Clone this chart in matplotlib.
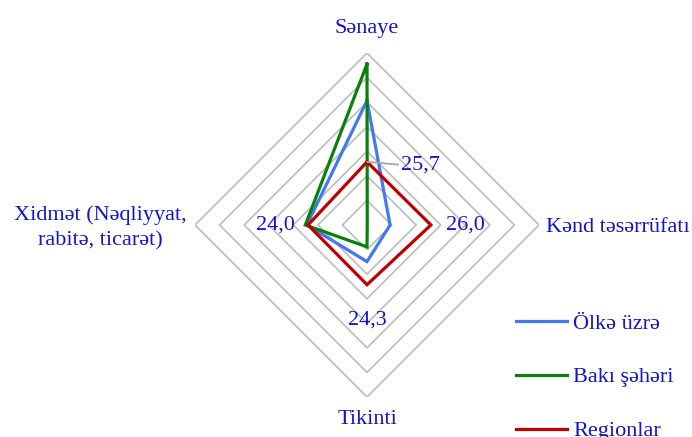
import numpy as np
import matplotlib
matplotlib.use("Agg")
import matplotlib.pyplot as plt

categories = ["Sənaye", "Kənd təsərrüfatı", "Tikinti", "Xidmət (Nəqliyyat,\nrabitə, ticarət)"]
series_names = ["Ölkə üzrə", "Bakı şəhəri", "Regionlar"]
olke = [50.6, 9.4, 14.9, 24.5]
baki = [65.5, 0.1, 8.9, 25.1]
regionlar = [25.7, 26.0, 24.3, 24.0]
region_labels = ["25,7", "26,0", "24,3", "24,0"]
grid_levels = [10, 20, 30, 40, 50, 60, 70]

colors = ["#4378f2", "#0a800a", "#c00000"]
text_blue = "#1414c8"
grid_gray = "#c0c0c0"
font = ["Liberation Serif", "DejaVu Serif"]

W, H = 692, 437
fig = plt.figure(figsize=(W / 100, H / 100), dpi=100)
cx, cy, R = 367, 225, 172
ax = fig.add_axes([(cx - R) / W, (H - cy - R) / H, 2 * R / W, 2 * R / H], projection="polar")
ax.set_theta_zero_location("N")
ax.set_theta_direction(-1)
ax.set_ylim(0, 70)
ax.set_xticks([])
ax.set_yticks([])
ax.grid(False)
ax.spines["polar"].set_visible(False)
ax.patch.set_alpha(0)

n = len(categories)
theta = np.arange(n) * 2 * np.pi / n
theta_c = np.append(theta, theta[0])

for lv in grid_levels:
    ax.plot(theta_c, [lv] * (n + 1), color=grid_gray, lw=1.3, zorder=1)

handles = []
for vals, c, name in zip([olke, baki, regionlar], colors, series_names):
    v = np.append(vals, vals[0])
    h, = ax.plot(theta_c, v, color=c, lw=2.3, label=name, zorder=3, solid_joinstyle="miter")
    handles.append(h)

px = 0.72  # points per pixel
cat_specs = [
    (0, 70, (0, 24), "center", "center"),
    (1, 70, (7, -2), "left", "center"),
    (2, 70, (0, -22), "center", "center"),
    (3, 70, (-8, -3), "right", "center"),
]
for i, r, off, ha, va in cat_specs:
    ax.annotate(categories[i], xy=(theta[i], r), xytext=(off[0] * px, off[1] * px),
                textcoords="offset points", ha=ha, va=va, multialignment="center",
                fontsize=16, color=text_blue, family=font, linespacing=1.45,
                annotation_clip=False)

ax.annotate(region_labels[0], xy=(theta[0], regionlar[0]), xytext=(34 * px, -3 * px),
            textcoords="offset points", ha="left", va="center", fontsize=16,
            color=text_blue, family=font,
            arrowprops=dict(arrowstyle="-", color="#a6a6a6", lw=1.3, shrinkA=0, shrinkB=0,
                            relpos=(0, 0.5)))
lab_specs = [(1, (15, 0), "left", "center"), (2, (0, -35), "center", "center"),
             (3, (-13, 0), "right", "center")]
for i, off, ha, va in lab_specs:
    ax.annotate(region_labels[i], xy=(theta[i], regionlar[i]), xytext=(off[0] * px, off[1] * px),
                textcoords="offset points", ha=ha, va=va, fontsize=16,
                color=text_blue, family=font)

leg = fig.legend(handles=handles, loc="upper left", bbox_to_anchor=(496 / W, 1 - 293 / H),
                 frameon=False, handlelength=2.3, handletextpad=0.27,
                 labelspacing=1.5, prop={"family": font, "size": 16})
for t in leg.get_texts():
    t.set_color(text_blue)

fig.savefig("out.png", dpi=100)
